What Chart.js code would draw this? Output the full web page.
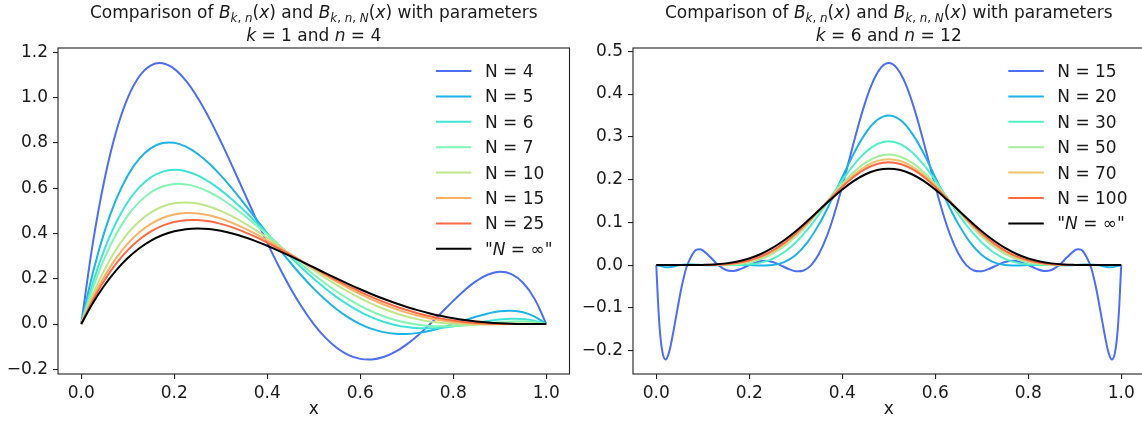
<!DOCTYPE html>
<html>
<head>
<meta charset="utf-8">
<script src="https://cdn.jsdelivr.net/npm/chart.js@4.4.1/dist/chart.umd.min.js"></script>
<style>
  html, body { margin: 0; padding: 0; background: #fff; overflow: hidden; }
  #wrap { position: relative; width: 1142px; height: 423px; overflow: hidden; }
  .panel { position: absolute; top: 0; width: 575px; height: 423px; }
  #p1 { left: 0; }
  #p2 { left: 575px; }
</style>
</head>
<body>
<div id="wrap">
  <div class="panel" id="p1"><canvas id="c1" width="575" height="423"></canvas></div>
  <div class="panel" id="p2"><canvas id="c2" width="575" height="423"></canvas></div>
</div>
<script>
// ── Left panel: k = 1, n = 4 ─────────────────────────────────────────────
const xsLeft = [0, 0.025, 0.05, 0.075, 0.1, 0.125, 0.15, 0.175, 0.2, 0.225, 0.25, 0.275, 0.3, 0.325,
                0.35, 0.375, 0.4, 0.425, 0.45, 0.475, 0.5, 0.525, 0.55, 0.575, 0.6, 0.625, 0.65, 0.675,
                0.7, 0.725, 0.75, 0.775, 0.8, 0.825, 0.85, 0.875, 0.9, 0.925, 0.95, 0.975, 1];
const leftN4   = [0, 0.3582, 0.6384, 0.8492, 0.9984, 1.0938, 1.1424, 1.1512, 1.1264, 1.0742, 1.0000, 0.9092,
                  0.8064, 0.6962, 0.5824, 0.4688, 0.3584, 0.2542, 0.1584, 0.0732, 0, -0.0599, -0.1056,
                  -0.1369, -0.1536, -0.1563, -0.1456, -0.1229, -0.0896, -0.0479, 0, 0.0512, 0.1024, 0.1502,
                  0.1904, 0.2188, 0.2304, 0.2202, 0.1824, 0.1112, 0];
const leftN5   = [0, 0.2263, 0.4082, 0.5501, 0.6563, 0.7306, 0.7770, 0.7989, 0.8000, 0.7833, 0.7520, 0.7087,
                  0.6563, 0.5970, 0.5332, 0.4669, 0.4000, 0.3341, 0.2707, 0.2111, 0.1563, 0.1072, 0.0645,
                  0.0286, 0, -0.0214, -0.0355, -0.0429, -0.0438, -0.0389, -0.0293, -0.0159, 0, 0.0169,
                  0.0332, 0.0470, 0.0563, 0.0587, 0.0520, 0.0333, 0];
const leftN6   = [0, 0.1821, 0.3304, 0.4482, 0.5386, 0.6043, 0.6482, 0.6729, 0.6810, 0.6747, 0.6563, 0.6278,
                  0.5914, 0.5487, 0.5014, 0.4512, 0.3994, 0.3473, 0.2960, 0.2466, 0.2000, 0.1569, 0.1178,
                  0.0833, 0.0538, 0.0293, 0.0100, -0.0042, -0.0134, -0.0181, -0.0188, -0.0159, -0.0102,
                  -0.0027, 0.0056, 0.0137, 0.0202, 0.0237, 0.0226, 0.0153, 0];
const leftN7   = [0, 0.1599, 0.2912, 0.3966, 0.4786, 0.5395, 0.5817, 0.6072, 0.6182, 0.6166, 0.6043, 0.5829,
                  0.5542, 0.5196, 0.4805, 0.4383, 0.3942, 0.3493, 0.3045, 0.2607, 0.2188, 0.1793, 0.1428,
                  0.1098, 0.0806, 0.0555, 0.0346, 0.0180, 0.0054, -0.0032, -0.0082, -0.0099, -0.0090,
                  -0.0059, -0.0014, 0.0036, 0.0082, 0.0113, 0.0119, 0.0086, 0];
const leftN10  = [0, 0.1312, 0.2403, 0.3293, 0.4000, 0.4541, 0.4933, 0.5192, 0.5333, 0.5371, 0.5320, 0.5192,
                  0.5000, 0.4755, 0.4469, 0.4150, 0.3810, 0.3455, 0.3094, 0.2734, 0.2381, 0.2041, 0.1719,
                  0.1418, 0.1143, 0.0895, 0.0677, 0.0490, 0.0333, 0.0208, 0.0112, 0.0043, 0, -0.0022,
                  -0.0025, -0.0016, 0, 0.0017, 0.0028, 0.0025, 0];
const leftN15  = [0, 0.1152, 0.2118, 0.2914, 0.3554, 0.4053, 0.4424, 0.4681, 0.4835, 0.4899, 0.4884, 0.4800,
                  0.4659, 0.4468, 0.4238, 0.3977, 0.3692, 0.3391, 0.3081, 0.2767, 0.2455, 0.2151, 0.1857,
                  0.1579, 0.1319, 0.1080, 0.0863, 0.0671, 0.0505, 0.0364, 0.0248, 0.0156, 0.0088, 0.0040,
                  0.0011, -0.0003, -0.0006, -0.0002, 0.0004, 0.0007, 0];
const leftN25  = [0, 0.1050, 0.1935, 0.2670, 0.3266, 0.3737, 0.4093, 0.4346, 0.4506, 0.4584, 0.4590, 0.4534,
                  0.4423, 0.4266, 0.4071, 0.3846, 0.3597, 0.3331, 0.3053, 0.2770, 0.2486, 0.2205, 0.1932,
                  0.1671, 0.1423, 0.1192, 0.0980, 0.0788, 0.0618, 0.0470, 0.0345, 0.0241, 0.0158, 0.0095,
                  0.0051, 0.0022, 0.0006, -0.0001, -0.0001, 0.0001, 0];
const leftNinf = [0, 0.0927, 0.1715, 0.2374, 0.2916, 0.3350, 0.3685, 0.3931, 0.4096, 0.4189, 0.4219, 0.4192,
                  0.4116, 0.3998, 0.3845, 0.3662, 0.3456, 0.3232, 0.2995, 0.2749, 0.2500, 0.2251, 0.2005,
                  0.1766, 0.1536, 0.1318, 0.1115, 0.0927, 0.0756, 0.0603, 0.0469, 0.0353, 0.0256, 0.0177,
                  0.0115, 0.0068, 0.0036, 0.0016, 0.0005, 0.0001, 0];
const leftLabels = ['N = 4', 'N = 5', 'N = 6', 'N = 7', 'N = 10', 'N = 15', 'N = 25', '"N = \u221E"'];
const leftColors = ['#4b6ef5', '#1eb3e8', '#40e4d6', '#80f5b4', '#bfe68a', '#ffb163', '#ff6a45', '#000000'];
const leftYTicks = [-0.2, 0, 0.2, 0.4, 0.6, 0.8, 1.0, 1.2];

// ── Right panel: k = 6, n = 12 ───────────────────────────────────────────
const xsRight = [0, 0.025, 0.05, 0.075, 0.1, 0.125, 0.15, 0.175, 0.2, 0.225, 0.25, 0.275, 0.3, 0.325,
                 0.35, 0.375, 0.4, 0.425, 0.45, 0.475, 0.5, 0.525, 0.55, 0.575, 0.6, 0.625, 0.65, 0.675,
                 0.7, 0.725, 0.75, 0.775, 0.8, 0.825, 0.85, 0.875, 0.9, 0.925, 0.95, 0.975, 1];
const xN15 = [0, 0.0067, 0.0133, 0.02, 0.0267, 0.0333, 0.04, 0.0533, 0.06, 0.0667, 0.0833, 0.0933, 0.1,
              0.1167, 0.1333, 0.15, 0.1667, 0.1833, 0.2, 0.2167, 0.2333, 0.25, 0.2667, 0.2833, 0.3, 0.3167,
              0.3333, 0.35, 0.3667, 0.3833, 0.4, 0.4167, 0.4333, 0.45, 0.4667, 0.4833, 0.5,
              0.5167, 0.5333, 0.55, 0.5667, 0.5833, 0.6, 0.6167, 0.6333, 0.65, 0.6667, 0.6833, 0.7,
              0.7167, 0.7333, 0.75, 0.7667, 0.7833, 0.8, 0.8167, 0.8333, 0.85, 0.8667, 0.8833, 0.9,
              0.9067, 0.9167, 0.9333, 0.94, 0.9467, 0.96, 0.9667, 0.9733, 0.98, 0.9867, 0.9933, 1];
const rightN15 = [0, -0.1378, -0.2036, -0.2207, -0.2070, -0.1758, -0.1364, -0.0578, -0.0255, 0, 0.0339,
                  0.0371, 0.0343, 0.0182, 0, -0.0115, -0.0136, -0.0084, 0, 0.0072, 0.0099, 0.0072, 0,
                  -0.0085, -0.0142, -0.0127, 0, 0.0264, 0.0671, 0.1209, 0.1846, 0.2534, 0.3213, 0.3824,
                  0.4308, 0.4618, 0.4725,
                  0.4618, 0.4308, 0.3824, 0.3213, 0.2534, 0.1846, 0.1209, 0.0671, 0.0264, 0, -0.0127,
                  -0.0142, -0.0085, 0, 0.0072, 0.0099, 0.0072, 0, -0.0084, -0.0136, -0.0115, 0, 0.0182,
                  0.0343, 0.0371, 0.0339, 0, -0.0255, -0.0578, -0.1364, -0.1758, -0.2070, -0.2207,
                  -0.2036, -0.1378, 0];
const rightN20 = [0, -0.0053, 0, 0.0012, 0, -0.0006, 0, 0.0005, 0, -0.0010, 0, 0.0070, 0.0238, 0.0532,
                  0.0954, 0.1478, 0.2054, 0.2613, 0.3081, 0.3392, 0.3501, 0.3392, 0.3081, 0.2613, 0.2054,
                  0.1478, 0.0954, 0.0532, 0.0238, 0.0070, 0, -0.0010, 0, 0.0005, 0, -0.0006, 0, 0.0012,
                  0, -0.0053, 0];
const rightN30 = [0, -0.0001, 0, 0, 0, 0, 0, 0.0001, 0.0016, 0.0058, 0.0147, 0.0300, 0.0527, 0.0827,
                  0.1187, 0.1584, 0.1983, 0.2348, 0.2641, 0.2831, 0.2896, 0.2831, 0.2641, 0.2348, 0.1983,
                  0.1584, 0.1187, 0.0827, 0.0527, 0.0300, 0.0147, 0.0058, 0.0016, 0.0001, 0, 0, 0, 0,
                  0, -0.0001, 0];
const rightN50 = [0, 0, 0, 0, 0, 0.0001, 0.0007, 0.0025, 0.0066, 0.0143, 0.0265, 0.0440, 0.0669, 0.0946,
                  0.1256, 0.1581, 0.1896, 0.2175, 0.2395, 0.2535, 0.2584, 0.2535, 0.2395, 0.2175, 0.1896,
                  0.1581, 0.1256, 0.0946, 0.0669, 0.0440, 0.0265, 0.0143, 0.0066, 0.0025, 0.0007, 0.0001,
                  0, 0, 0, 0, 0];
const rightN70 = [0, 0, 0, 0, 0, 0.0003, 0.0014, 0.0040, 0.0092, 0.0179, 0.0309, 0.0488, 0.0713, 0.0978,
                  0.1270, 0.1570, 0.1858, 0.2110, 0.2308, 0.2433, 0.2477, 0.2433, 0.2308, 0.2110, 0.1858,
                  0.1570, 0.1270, 0.0978, 0.0713, 0.0488, 0.0309, 0.0179, 0.0092, 0.0040, 0.0014, 0.0003,
                  0, 0, 0, 0, 0];
const rightN100 = [0, 0, 0, 0, 0.0001, 0.0006, 0.0021, 0.0053, 0.0111, 0.0204, 0.0340, 0.0519, 0.0741,
                   0.0998, 0.1276, 0.1560, 0.1829, 0.2065, 0.2248, 0.2364, 0.2404, 0.2364, 0.2248, 0.2065,
                   0.1829, 0.1560, 0.1276, 0.0998, 0.0741, 0.0519, 0.0340, 0.0204, 0.0111, 0.0053, 0.0021,
                   0.0006, 0.0001, 0, 0, 0, 0];
const rightNinf = [0, 0, 0, 0.0001, 0.0005, 0.0016, 0.0040, 0.0084, 0.0155, 0.0260, 0.0402, 0.0580, 0.0792,
                   0.1030, 0.1281, 0.1532, 0.1766, 0.1968, 0.2124, 0.2222, 0.2256, 0.2222, 0.2124, 0.1968,
                   0.1766, 0.1532, 0.1281, 0.1030, 0.0792, 0.0580, 0.0402, 0.0260, 0.0155, 0.0084, 0.0040,
                   0.0016, 0.0005, 0.0001, 0, 0, 0];
const rightLabels = ['N = 15', 'N = 20', 'N = 30', 'N = 50', 'N = 70', 'N = 100', '"N = \u221E"'];
const rightColors = ['#4b6ef5', '#1eb3e8', '#50f0c6', '#a5ef9c', '#eec46e', '#ff6a45', '#000000'];
const rightYTicks = [-0.2, -0.1, 0, 0.1, 0.2, 0.3, 0.4, 0.5];

const xTicks = [0, 0.2, 0.4, 0.6, 0.8, 1.0];

// ── Shared look ──────────────────────────────────────────────────────────
const FONT = 17;
const INK = '#1a1a1a';
Chart.defaults.font.family = '"DejaVu Sans", sans-serif';
Chart.defaults.font.size = FONT;
Chart.defaults.color = INK;

// style codes: r = regular, i = italic, sr / si = subscript regular / italic
function fontFor(style, size) {
    const sub = style[0] === 's';
    const italic = style.indexOf('i') >= 0;
    return (italic ? 'italic ' : '') + (sub ? size * 0.7 : size) + 'px "DejaVu Sans", sans-serif';
}

function drawRich(ctx, parts, x, y, align, size) {
    let w = 0;
    parts.forEach(p => { ctx.font = fontFor(p[1], size); w += ctx.measureText(p[0]).width; });
    let cx = align === 'center' ? x - w / 2 : x;
    parts.forEach(p => {
        ctx.font = fontFor(p[1], size);
        const dy = p[1][0] === 's' ? size * 0.24 : 0;
        ctx.fillText(p[0], cx, y + dy);
        cx += ctx.measureText(p[0]).width;
    });
    return w;
}

function labelParts(label) {
    // '"N = ∞"' gets a math-italic N, like matplotlib mathtext
    if (label[0] === '"') return [['"', 'r'], ['N', 'i'], [label.slice(2), 'r']];
    return [[label, 'r']];
}

function titleLines(k, n) {
    return [
        [['Comparison of ', 'r'], ['B', 'i'], ['k', 'si'], [', ', 'sr'], ['n', 'si'], ['(', 'r'], ['x', 'i'],
         [')', 'r'], [' and ', 'r'], ['B', 'i'], ['k', 'si'], [', ', 'sr'], ['n', 'si'], [', ', 'sr'],
         ['N', 'si'], ['(', 'r'], ['x', 'i'], [')', 'r'], [' with parameters', 'r']],
        [['k', 'i'], [' = ' + k + ' and ', 'r'], ['n', 'i'], [' = ' + n, 'r']]
    ];
}

// frame, two-line title and in-axes legend (matplotlib style)
const decorPlugin = {
    id: 'decor',
    afterDraw(chart, args, opts) {
        const ctx = chart.ctx, a = chart.chartArea;
        ctx.save();
        ctx.strokeStyle = '#222';
        ctx.lineWidth = 1.1;
        ctx.strokeRect(a.left, a.top, a.right - a.left, a.bottom - a.top);

        ctx.fillStyle = INK;
        ctx.textBaseline = 'alphabetic';
        const cx = (a.left + a.right) / 2;
        drawRich(ctx, opts.title[0], cx, 18, 'center', FONT);
        drawRich(ctx, opts.title[1], cx, 40.5, 'center', FONT);

        const sets = chart.data.datasets;
        let maxW = 0;
        sets.forEach(ds => {
            let w = 0;
            labelParts(ds.label).forEach(p => { ctx.font = fontFor(p[1], FONT); w += ctx.measureText(p[0]).width; });
            maxW = Math.max(maxW, w);
        });
        const textX = a.right - 17 - maxW;
        sets.forEach((ds, i) => {
            const y = a.top + 23 + i * 25.4;
            ctx.strokeStyle = ds.borderColor;
            ctx.lineWidth = 2;
            ctx.beginPath();
            ctx.moveTo(textX - 49, y);
            ctx.lineTo(textX - 13.5, y);
            ctx.stroke();
            drawRich(ctx, labelParts(ds.label), textX, y + 6, 'left', FONT);
        });
        ctx.restore();
    }
};

const fmt = v => Number(v).toFixed(1).replace('-', '\u2212');

function makeChart(id, xs, series, labels, colors, yMin, yMax, yTicks, title) {
    return new Chart(document.getElementById(id), {
        type: 'line',
        data: {
            datasets: series.map((ys, i) => ({
                label: labels[i],
                data: ys.map((y, j) => ({ x: (Array.isArray(xs[0]) ? xs[i] : xs)[j], y: y })),
                borderColor: colors[i],
                borderWidth: 2,
                pointRadius: 0,
                tension: 0.4,
                fill: false,
                order: -i
            }))
        },
        options: {
            responsive: false,
            animation: false,
            layout: { padding: { top: 48, right: 5.5, left: 0, bottom: 0 } },
            plugins: { legend: { display: false }, tooltip: { enabled: false }, decor: { title: title } },
            scales: {
                x: {
                    type: 'linear', min: -0.05, max: 1.05,
                    afterFit: s => { s.height = 49; },
                    afterBuildTicks: s => { s.ticks = xTicks.map(v => ({ value: v })); },
                    ticks: { callback: fmt, padding: 4, maxRotation: 0, autoSkip: false, color: INK },
                    grid: { drawOnChartArea: false, tickLength: 5, color: '#222', lineWidth: 1.1 },
                    border: { display: false },
                    title: { display: true, text: 'x', color: INK, padding: { top: 0, bottom: 3 } }
                },
                y: {
                    type: 'linear', min: yMin, max: yMax,
                    afterFit: s => { s.width = 58; },
                    afterBuildTicks: s => { s.ticks = yTicks.map(v => ({ value: v })); },
                    ticks: { callback: fmt, padding: 5, autoSkip: false, color: INK },
                    grid: { drawOnChartArea: false, tickLength: 5, color: '#222', lineWidth: 1.1 },
                    border: { display: false }
                }
            }
        },
        plugins: [decorPlugin]
    });
}

makeChart('c1', xsLeft,
    [leftN4, leftN5, leftN6, leftN7, leftN10, leftN15, leftN25, leftNinf],
    leftLabels, leftColors, -0.2204, 1.2186, leftYTicks, titleLines(1, 4));

makeChart('c2', [xN15, xsRight, xsRight, xsRight, xsRight, xsRight, xsRight],
    [rightN15, rightN20, rightN30, rightN50, rightN70, rightN100, rightNinf],
    rightLabels, rightColors, -0.2547, 0.5077, rightYTicks, titleLines(6, 12));
</script>
</body>
</html>
